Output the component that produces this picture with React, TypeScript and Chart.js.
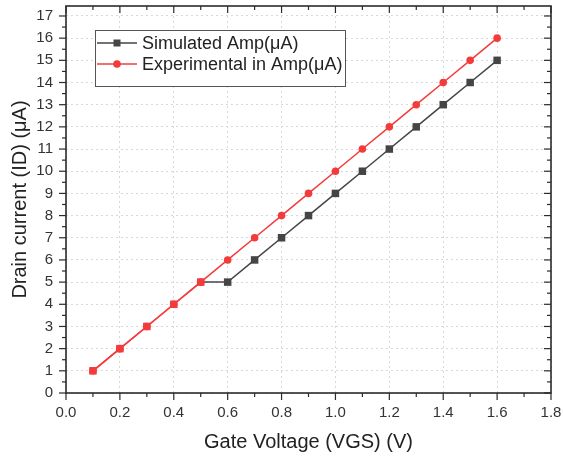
import React, { useEffect, useRef } from "react";
import { Chart, registerables } from "chart.js";

Chart.register(...registerables);

const voltages = [0.1, 0.2, 0.3, 0.4, 0.5, 0.6, 0.7, 0.8, 0.9, 1.0, 1.1, 1.2, 1.3, 1.4, 1.5, 1.6];
const simulated = [1, 2, 3, 4, 5, 5, 6, 7, 8, 9, 10, 11, 12, 13, 14, 15];
const experimental = [1, 2, 3, 4, 5, 6, 7, 8, 9, 10, 11, 12, 13, 14, 15, 16];
const xTickValues = [0, 0.2, 0.4, 0.6, 0.8, 1.0, 1.2, 1.4, 1.6, 1.8];
const yTickValues = [0, 1, 2, 3, 4, 5, 6, 7, 8, 9, 10, 11, 12, 13, 14, 15, 16, 17];
const seriesNames = ["Simulated Amp(μA)", "Experimental in Amp(μA)"];
const xTitle = "Gate Voltage (VGS) (V)";
const yTitle = "Drain current (ID) (μA)";

const RED = "#f43b3b";
const GRAY = "#454545";
const FONT = "'Liberation Sans', Arial, sans-serif";

const framePlugin = {
  id: "frame",
  afterDatasetsDraw(chart: any) {
    const { ctx, chartArea, scales } = chart;
    const { left, right, top, bottom } = chartArea;
    const xs = scales.x;
    const ys = scales.y;
    ctx.save();
    ctx.strokeStyle = "#2b2b2b";
    ctx.lineWidth = 1.6;
    ctx.strokeRect(left, top, right - left, bottom - top);
    ctx.lineWidth = 1.2;
    const line = (x1: number, y1: number, x2: number, y2: number) => {
      ctx.beginPath();
      ctx.moveTo(x1, y1);
      ctx.lineTo(x2, y2);
      ctx.stroke();
    };
    for (let i = 0; i <= 18; i++) {
      const px = xs.getPixelForValue(i / 10);
      const L = i % 2 === 0 ? 7 : 4;
      line(px, bottom, px, bottom + L);
      line(px, top, px, top + L);
    }
    for (let i = 0; i <= 34; i++) {
      const py = ys.getPixelForValue(i / 2);
      const L = i % 2 === 0 ? 7 : 4;
      line(left, py, left - L, py);
      line(right, py, right - L, py);
    }
    ctx.restore();
  },
};

const legendPlugin = {
  id: "boxLegend",
  afterDraw(chart: any) {
    const { ctx } = chart;
    const bx = 95, by = 30, bw = 250, bh = 56;
    ctx.save();
    ctx.fillStyle = "#ffffff";
    ctx.fillRect(bx, by, bw, bh);
    ctx.strokeStyle = "#555";
    ctx.lineWidth = 1;
    ctx.strokeRect(bx + 0.5, by + 0.5, bw, bh);
    const rows = [
      { y: 43, color: GRAY, style: "rect" },
      { y: 64, color: RED, style: "circle" },
    ];
    rows.forEach((r, i) => {
      ctx.strokeStyle = r.color;
      ctx.lineWidth = 1.5;
      ctx.beginPath();
      ctx.moveTo(97, r.y);
      ctx.lineTo(137, r.y);
      ctx.stroke();
      ctx.fillStyle = r.color;
      if (r.style === "rect") {
        ctx.fillRect(117 - 3.5, r.y - 3.5, 7, 7);
      } else {
        ctx.beginPath();
        ctx.arc(117, r.y, 3.8, 0, Math.PI * 2);
        ctx.fill();
      }
      ctx.fillStyle = "#222";
      ctx.font = `18px ${FONT}`;
      ctx.textBaseline = "middle";
      ctx.textAlign = "left";
      ctx.fillText(seriesNames[i], 142, r.y + 1);
    });
    ctx.restore();
  },
};

export default function App() {
  const ref = useRef<HTMLCanvasElement>(null);
  useEffect(() => {
    if (!ref.current) return;
    const simColors = simulated.map((_, i) => (i <= 4 ? RED : GRAY));
    const chart = new Chart(ref.current, {
      type: "line",
      data: {
        datasets: [
          {
            label: seriesNames[0],
            data: voltages.map((v, i) => ({ x: v, y: simulated[i] })),
            borderColor: GRAY,
            borderWidth: 1.5,
            pointStyle: "rect",
            pointRadius: 5.3,
            pointBackgroundColor: simColors,
            pointBorderColor: simColors,
            pointBorderWidth: 0,
            segment: {
              borderColor: (c: any) => (c.p1DataIndex <= 4 ? RED : GRAY),
            },
          } as any,
          {
            label: seriesNames[1],
            data: voltages.map((v, i) => ({ x: v, y: experimental[i] })),
            borderColor: RED,
            borderWidth: 1.5,
            pointStyle: "circle",
            pointRadius: 3.8,
            pointBackgroundColor: RED,
            pointBorderColor: RED,
            pointBorderWidth: 0,
          },
        ],
      },
      options: {
        responsive: false,
        animation: false,
        layout: { padding: { top: 6, right: 12, left: 0, bottom: 0 } },
        plugins: { legend: { display: false }, tooltip: { enabled: false } },
        scales: {
          x: {
            type: "linear",
            min: 0,
            max: 1.8,
            afterBuildTicks: (s: any) => {
              s.ticks = xTickValues.map((v) => ({ value: v }));
            },
            afterFit: (s: any) => {
              s.height = 66;
              s.paddingLeft = 0;
              s.paddingRight = 0;
            },
            ticks: {
              padding: 11,
              color: "#333",
              font: { family: FONT, size: 15 },
              maxRotation: 0,
              autoSkip: false,
              callback: (v: any) => Number(v).toFixed(1),
            },
            grid: { color: "#d8d8d8", lineWidth: 1, drawTicks: false },
            border: { display: false, dash: [2, 3] },
            title: {
              display: true,
              text: xTitle,
              color: "#222",
              font: { family: FONT, size: 20 },
              padding: { top: 0, bottom: 5 },
            },
          },
          y: {
            type: "linear",
            min: 0,
            max: 17.45,
            afterBuildTicks: (s: any) => {
              s.ticks = yTickValues.map((v) => ({ value: v }));
            },
            afterFit: (s: any) => {
              s.width = 66;
              s.paddingTop = 0;
              s.paddingBottom = 0;
            },
            ticks: {
              padding: 13,
              color: "#333",
              font: { family: FONT, size: 15 },
              autoSkip: false,
              callback: (v: any) => String(v),
            },
            grid: { color: "#d8d8d8", lineWidth: 1, drawTicks: false },
            border: { display: false, dash: [2, 3] },
            title: {
              display: true,
              text: yTitle,
              color: "#222",
              font: { family: FONT, size: 20 },
              padding: { top: 8, bottom: 0 },
            },
          },
        },
      },
      plugins: [framePlugin, legendPlugin],
    } as any);
    return () => chart.destroy();
  }, []);
  return (
    <div style={{ position: "absolute", left: 0, top: 0, width: 563, height: 459, background: "#fff" }}>
      <canvas ref={ref} width={563} height={459} style={{ display: "block" }} />
    </div>
  );
}
